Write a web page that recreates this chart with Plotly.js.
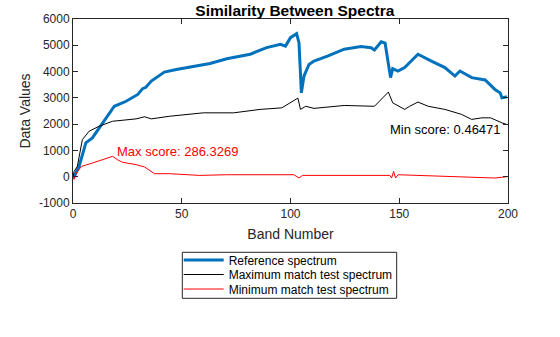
<!DOCTYPE html>
<html><head><meta charset="utf-8">
<script src="https://cdn.plot.ly/plotly-3.0.1.min.js"></script>
<style>body{margin:0;padding:0;background:#fff}#chart{width:560px;height:337px}</style>
</head><body><div id="chart"></div>
<script>
// Reference spectrum
const refX = [0,0.5,2.8,5.9,8.9,13.6,19,24.4,29.8,32,33.5,36,42,47.5,55,63,70.7,76.9,81.5,89,95.4,97.7,100,102.8,103.9,105,106.2,108.5,110.8,117,124.7,132.4,137,138.6,141.7,143.5,144.8,146,147,149.4,152.5,158.6,164.8,171,175.6,177.9,183.3,189.5,194,196.4,197.2,199.5];
const refY = [0,0,393,1290,1475,2050,2680,2870,3130,3350,3400,3640,3980,4080,4190,4310,4490,4590,4660,4910,5040,4970,5290,5440,5100,3190,3830,4270,4400,4590,4850,4950,4910,4820,5130,5080,4470,3770,4110,4020,4150,4660,4400,4150,3830,4020,3770,3680,3320,3190,3000,3040];
// Maximum match test spectrum
const maxX = [0,0.5,2,4.3,7.4,12,18.2,29,32.9,36,44.4,59.9,73.8,86,96,100,103.4,104.6,107,110.8,124.7,138.6,145,147,152.5,154.8,158.6,163.3,171,178.7,183.3,188,192,197.2,199.5];
const maxY = [0,200,393,1410,1730,1920,2110,2200,2280,2200,2300,2430,2430,2560,2620,2810,2990,2560,2680,2600,2710,2680,3220,2810,2560,2680,2840,2680,2560,2370,2180,2240,2240,2050,1985];
// Minimum match test spectrum
const minX = [0,0.5,1.5,3.9,8.9,18.2,20.4,22.7,29,32.9,37.5,44.4,58.3,70.7,101.6,103.9,105.5,145.7,146.5,147.4,148.3,149.4,194,199.5];
const minY = [-50,-100,140,393,520,775,650,550,460,370,115,115,50,75,75,-50,50,50,-50,200,-50,75,-50,0];

const names = ['Reference spectrum','Maximum match test spectrum','Minimum match test spectrum'];
const maxLabel = 'Max score: 286.3269';
const minLabel = 'Min score: 0.46471';
const xTicks = [0,50,100,150,200];
const yTicks = [-1000,0,1000,2000,3000,4000,5000,6000];

const FONT = 'Liberation Sans, Arial, sans-serif';

const traces = [
  {x: refX, y: refY, name: names[0], mode: 'lines', line: {color: '#0072BD', width: 3}, legend: 'legend'},
  {x: maxX, y: maxY, name: names[1], mode: 'lines', line: {color: '#000000', width: 1}, legend: 'legend2'},
  {x: minX, y: minY, name: names[2], mode: 'lines', line: {color: '#FF0000', width: 1}, legend: 'legend3'}
];

const axisCommon = {
  showgrid: false, zeroline: false, showline: true, mirror: 'ticks',
  linecolor: '#262626', linewidth: 1, ticks: 'inside', ticklen: 5, tickcolor: '#262626',
  tickfont: {family: FONT, size: 12, color: '#262626'}
};

function leg(yc) {
  return {x: 0.243, xanchor: 'left', y: yc, yanchor: 'middle', borderwidth: 0,
          bgcolor: 'rgba(0,0,0,0)', font: {family: FONT, size: 12, color: '#000000'}, itemwidth: 40};
}

const layout = {
  width: 560, height: 337,
  margin: {l: 73, r: 52, t: 19, b: 134},
  paper_bgcolor: '#ffffff', plot_bgcolor: '#ffffff',
  font: {family: FONT, color: '#262626'},
  title: {text: '<b>Similarity Between Spectra</b>', x: 0.51, xanchor: 'center', xref: 'paper', y: 0.97, yanchor: 'middle',
          font: {family: FONT, size: 15.5, color: '#000000'}},
  xaxis: Object.assign({}, axisCommon, {range: [0, 200], tickvals: xTicks,
          title: {text: 'Band Number', font: {family: FONT, size: 14, color: '#262626'}, standoff: 8}}),
  yaxis: Object.assign({}, axisCommon, {range: [-1000, 6000], tickvals: yTicks, ticktext: yTicks.map(String),
          title: {text: 'Data Values', font: {family: FONT, size: 14, color: '#262626'}, standoff: 4}}),
  showlegend: true,
  legend: leg(-0.3098),
  legend2: leg(-0.3886),
  legend3: leg(-0.4674),
  shapes: [
    {type: 'rect', xref: 'paper', yref: 'paper', x0: 0.2513, x1: 0.7441, y0: -0.518, y1: -0.268,
     line: {color: '#262626', width: 1}, fillcolor: 'rgba(0,0,0,0)', layer: 'below'}
  ],
  annotations: [
    {x: 19.5, y: 954, xref: 'x', yref: 'y', text: maxLabel, showarrow: false, xanchor: 'left', yanchor: 'middle',
     font: {family: FONT, size: 13, color: '#FF0000'}},
    {x: 145, y: 1794, xref: 'x', yref: 'y', text: minLabel, showarrow: false, xanchor: 'left', yanchor: 'middle',
     font: {family: FONT, size: 13, color: '#000000'}}
  ]
};

Plotly.newPlot('chart', traces, layout, {staticPlot: true, displayModeBar: false});
</script>
</body></html>
